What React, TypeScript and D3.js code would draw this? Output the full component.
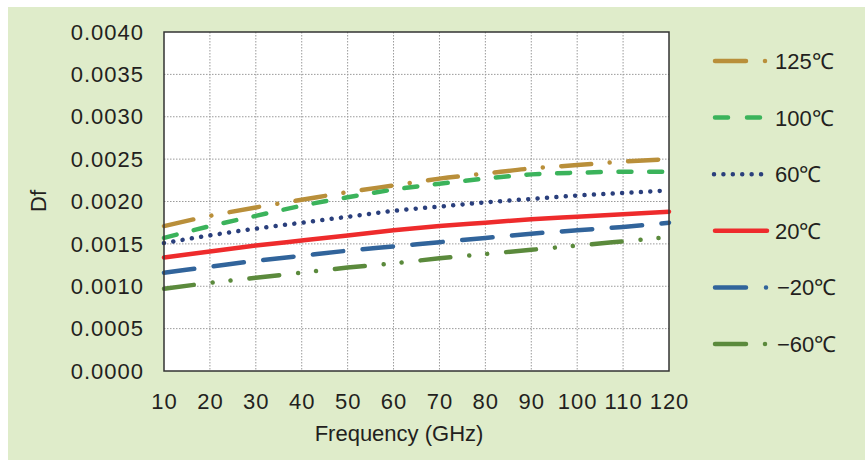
import React from "react";
import * as d3 from "d3";

const W = 865, H = 460;
const margin = { top: 32, right: 196, bottom: 89, left: 164 };
const width = W - margin.left - margin.right;
const height = H - margin.top - margin.bottom;

const freqs = [10, 20, 30, 40, 50, 60, 70, 80, 90, 100, 110, 120];
const yTicks = [0, 0.0005, 0.001, 0.0015, 0.002, 0.0025, 0.003, 0.0035, 0.004];

const df125 = [0.00171, 0.00183, 0.00193, 0.00202, 0.00211, 0.00219, 0.00227, 0.00233, 0.00239, 0.00243, 0.00247, 0.0025];
const df100 = [0.00157, 0.00171, 0.00183, 0.00195, 0.00205, 0.00214, 0.00221, 0.00227, 0.00232, 0.00234, 0.00235, 0.00235];
const df60 = [0.00151, 0.0016, 0.00168, 0.00175, 0.00182, 0.00189, 0.00194, 0.00199, 0.00203, 0.00207, 0.0021, 0.00213];
const df20 = [0.00134, 0.00141, 0.00148, 0.00154, 0.0016, 0.00166, 0.00171, 0.00175, 0.00179, 0.00182, 0.00185, 0.00188];
const dfM20 = [0.00116, 0.00123, 0.0013, 0.00136, 0.00142, 0.00147, 0.00152, 0.00157, 0.00162, 0.00166, 0.0017, 0.00175];
const dfM60 = [0.00097, 0.00104, 0.0011, 0.00116, 0.00122, 0.00127, 0.00133, 0.00138, 0.00143, 0.00148, 0.00153, 0.00158];

const series = [
  { label: "125℃", values: df125, color: "#b98f3a", dash: "30 18.5 0.01 18.5", legendDash: "31 19 0.01 40" },
  { label: "100℃", values: df100, color: "#3bb35b", dash: "13 17.7", legendDash: "13 19 13 40" },
  { label: "60℃", values: df60, color: "#2a3f7c", dash: "0.01 9.4", legendDash: "0.01 9.4" },
  { label: "20℃", values: df20, color: "#ee2b2c", dash: null, legendDash: null },
  { label: "−20℃", values: dfM20, color: "#31649b", dash: "30.5 19.5", legendDash: "31 20 0.01 40" },
  { label: "−60℃", values: dfM60, color: "#5b8a3c", dash: "30 19 0.01 18 0.01 19", legendDash: "31 19 0.01 40" },
];

const font = "'Liberation Sans', Arial, Helvetica, sans-serif";
const textColor = "#231f20";

const App = () => {
  const x = d3.scaleLinear().domain([10, 120]).range([0, width]);
  const y = d3.scaleLinear().domain([0, 0.004]).range([height, 0]);

  const line = d3
    .line<number>()
    .x((d, i) => x(freqs[i]))
    .y((d) => y(d))
    .curve(d3.curveMonotoneX);

  return (
    <svg
      width={W}
      height={H}
      style={{ position: "absolute", left: 0, top: 0 }}
      fontFamily={font}
    >
      <rect x={8} y={7} width={W - 8} height={H - 7} fill="#dfecca" />
      <g transform={`translate(${margin.left},${margin.top})`}>
        <rect x={0} y={0} width={width} height={height} fill="#fff" />
        {/* grid */}
        {freqs.slice(1, -1).map((f) => (
          <line key={"gx" + f} x1={x(f)} x2={x(f)} y1={0} y2={height}
            stroke="#9a9a9a" strokeWidth={1} strokeDasharray="1.5 1.5" />
        ))}
        {yTicks.slice(1, -1).map((t) => (
          <line key={"gy" + t} x1={0} x2={width} y1={y(t)} y2={y(t)}
            stroke="#9a9a9a" strokeWidth={1} strokeDasharray="1.5 1.5" />
        ))}
        {/* series */}
        {series.map((s) => (
          <path
            key={s.label}
            d={line(s.values) || ""}
            fill="none"
            stroke={s.color}
            strokeWidth={4.5}
            strokeLinecap="round"
            strokeDasharray={s.dash || undefined}
          />
        ))}
        <rect x={0} y={0} width={width} height={height} fill="none" stroke="#333" strokeWidth={1.5} />
        {/* y ticks */}
        {yTicks.map((t) => (
          <text key={"yt" + t} x={-20} y={y(t)} dy="0.35em" textAnchor="end"
            fontSize={22} letterSpacing={1} fill={textColor}>
            {d3.format(".4f")(t)}
          </text>
        ))}
        {/* x ticks */}
        {freqs.map((f) => (
          <text key={"xt" + f} x={x(f) + 0.5} y={height + 38} textAnchor="middle"
            fontSize={22} letterSpacing={1} fill={textColor}>
            {f}
          </text>
        ))}
      </g>
      <text x={399} y={441} textAnchor="middle" fontSize={22} fill={textColor}>
        Frequency (GHz)
      </text>
      <text transform="translate(46,201) rotate(-90)" textAnchor="middle"
        fontSize={22} fill={textColor}>
        Df
      </text>
      {/* legend */}
      <g transform="translate(0,61)">
        {series.map((s, i) => (
          <g key={"lg" + s.label} transform={`translate(0,${i * 56.6})`}>
            <line
              x1={s.label === "60℃" ? 714 : 715}
              x2={767}
              y1={0}
              y2={0}
              stroke={s.color}
              strokeWidth={4.5}
              strokeLinecap="round"
              strokeDasharray={s.legendDash || undefined}
            />
            <text x={s.label.startsWith("−") ? 777 : 775} y={0} dy="0.36em"
              fontSize={22} fill={textColor}>
              {s.label}
            </text>
          </g>
        ))}
      </g>
    </svg>
  );
};

export default App;
